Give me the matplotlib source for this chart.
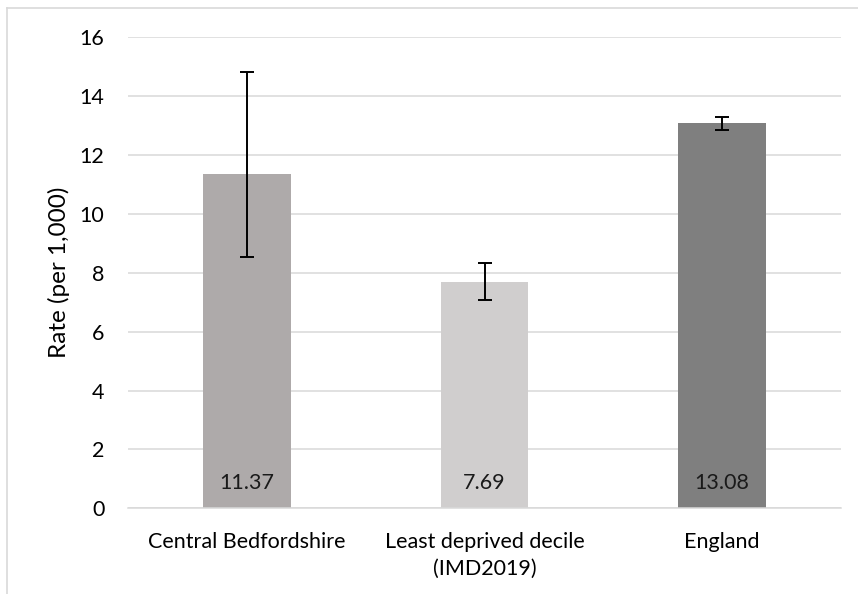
import matplotlib.pyplot as plt
from matplotlib.lines import Line2D

# values
categories = ['Central Bedfordshire', 'Least deprived decile\n(IMD2019)', 'England']
rates = [11.37, 7.69, 13.08]
lower_ci = [8.53, 7.08, 12.86]
upper_ci = [14.83, 8.32, 13.30]
bar_colours = ['#AEAAAA', '#D0CECE', '#7F7F7F']

plt.rcParams['font.family'] = ['Lato', 'DejaVu Sans']

fig = plt.figure(figsize=(8.58, 5.94), dpi=100)
ax = fig.add_axes([128 / 858, 1 - 508.3 / 594, (841 - 128) / 858, (508.3 - 37.3) / 594])

x = list(range(len(categories)))
err_lo = [r - l for r, l in zip(rates, lower_ci)]
err_hi = [u - r for r, u in zip(rates, upper_ci)]

ax.bar(x, rates, width=0.37, color=bar_colours, zorder=2)
ax.errorbar(x, rates, yerr=[err_lo, err_hi], fmt='none', ecolor='black',
            elinewidth=1.4, capsize=4.7, capthick=1.4, zorder=3)

# data labels at the base of each bar
for xi, r in zip(x, rates):
    ax.text(xi, 0.85, f'{r:.2f}', ha='center', va='center', fontsize=15.5,
            color='#1a1a1a', zorder=4)

ax.set_xlim(-0.5, 2.5)
ax.set_ylim(0, 16)
ax.set_yticks(range(0, 17, 2))
ax.set_xticks(x)
ax.set_xticklabels(categories, fontsize=15.5, linespacing=1.45)
ax.tick_params(axis='y', length=0, pad=17, labelsize=15.5)
ax.tick_params(axis='x', length=0, pad=17)
ax.grid(axis='y', color='#D9D9D9', linewidth=1.1, zorder=0)
ax.set_axisbelow(True)
for side in ['top', 'right', 'left']:
    ax.spines[side].set_visible(False)
ax.spines['bottom'].set_color('#D9D9D9')
ax.spines['bottom'].set_linewidth(1.1)

ax.set_ylabel('Rate (per 1,000)', fontsize=17.5, labelpad=7)

# chart frame (cut off on right and bottom in the reference)
fx = 7 / 858
fy = 1 - 7.5 / 594
fig.add_artist(Line2D([fx, 1], [fy, fy], color='#D9D9D9', linewidth=1.2))
fig.add_artist(Line2D([fx, fx], [0, fy], color='#D9D9D9', linewidth=1.2))

fig.savefig('out.png', dpi=100)
